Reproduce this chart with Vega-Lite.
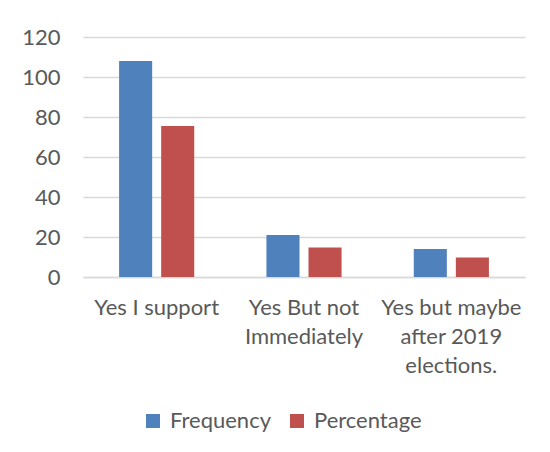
{
  "$schema": "https://vega.github.io/schema/vega-lite/v6.json",
  "width": 442,
  "height": 240,
  "autosize": "none",
  "padding": {"left": 83, "top": 37, "right": 25, "bottom": 175},
  "background": "white",
  "data": {"values": [
    {"category": "Yes I support", "series": "Frequency", "value": 108},
    {"category": "Yes I support", "series": "Percentage", "value": 75.5},
    {"category": "Yes But not Immediately", "series": "Frequency", "value": 21},
    {"category": "Yes But not Immediately", "series": "Percentage", "value": 14.7},
    {"category": "Yes but maybe after 2019 elections.", "series": "Frequency", "value": 14},
    {"category": "Yes but maybe after 2019 elections.", "series": "Percentage", "value": 9.8}
  ]},
  "config": {
    "font": "Lato",
    "view": {"stroke": null}
  },
  "mark": {"type": "bar"},
  "encoding": {
    "x": {
      "field": "category", "type": "nominal", "sort": null,
      "scale": {"paddingInner": 0.49, "paddingOuter": 0.245},
      "axis": {
        "title": null, "labelAngle": 0, "ticks": false,
        "domainColor": "#d9d9d9", "domainWidth": 1.5,
        "labelFont": "Lato", "labelFontSize": 22, "labelColor": "#595959",
        "labelPadding": 20, "labelBaseline": "top", "labelLineHeight": 29,
        "labelLimit": 220,
        "labelExpr": "datum.value == 'Yes But not Immediately' ? ['Yes But not', 'Immediately'] : datum.value == 'Yes but maybe after 2019 elections.' ? ['Yes but maybe', 'after 2019', 'elections.'] : datum.value"
      }
    },
    "xOffset": {
      "field": "series", "type": "nominal",
      "scale": {"paddingInner": 0.214, "paddingOuter": 0}
    },
    "y": {
      "field": "value", "type": "quantitative",
      "scale": {"domain": [0, 120], "nice": false},
      "axis": {
        "title": null, "values": [0, 20, 40, 60, 80, 100, 120],
        "ticks": false, "domain": false,
        "gridColor": "#d9d9d9", "gridWidth": 1.5,
        "labelFont": "Lato", "labelFontSize": 22, "labelColor": "#595959",
        "labelPadding": 23
      }
    },
    "color": {
      "field": "series", "type": "nominal",
      "scale": {"domain": ["Frequency", "Percentage"], "range": ["#4F81BD", "#C0504D"]},
      "legend": {
        "title": null, "orient": "none", "direction": "horizontal",
        "legendX": 59, "legendY": 373,
        "symbolType": "square", "symbolSize": 196, "symbolStrokeWidth": 0,
        "labelFont": "Lato", "labelFontSize": 22, "labelColor": "#595959",
        "columnPadding": 15, "labelOffset": 6
      }
    }
  }
}
